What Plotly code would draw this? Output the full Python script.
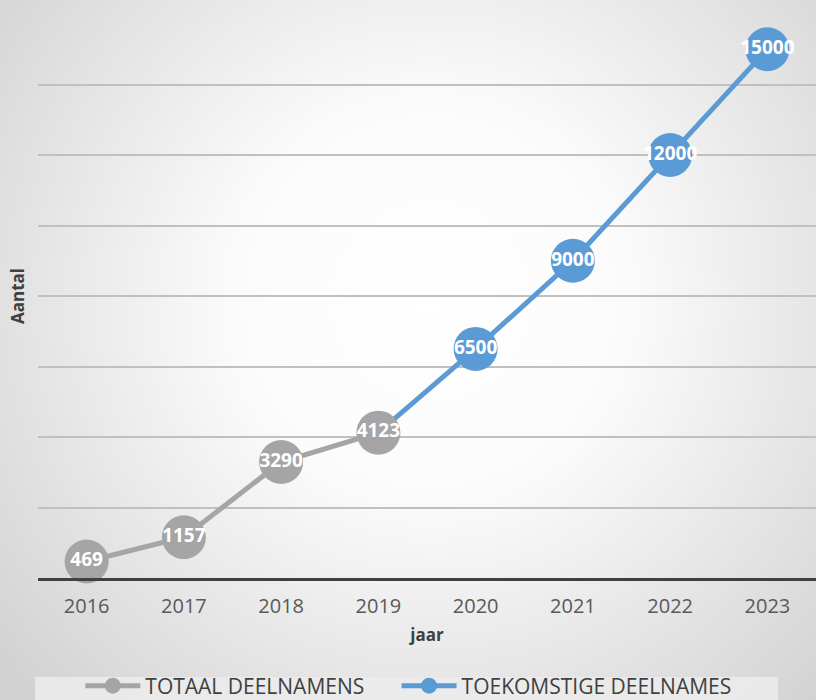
import base64
import plotly.graph_objects as go

years = ["2016", "2017", "2018", "2019", "2020", "2021", "2022", "2023"]
totaal_years = ["2016", "2017", "2018", "2019"]
totaal_vals = [469, 1157, 3290, 4123]
toekomst_years = ["2019", "2020", "2021", "2022", "2023"]
toekomst_vals = [4123, 6500, 9000, 12000, 15000]

W, H = 816, 700
L, R, T, B = 38, 0, 14, 122
pw, ph = W - L - R, H - T - B

svg = f'''<svg xmlns="http://www.w3.org/2000/svg" width="{W}" height="{H}">
<defs><radialGradient id="g" cx="{430}" cy="{300}" r="{560}" gradientUnits="userSpaceOnUse">
<stop offset="0" stop-color="#ffffff"/><stop offset="0.35" stop-color="#fbfbfb"/><stop offset="1" stop-color="#d2d2d2"/>
</radialGradient></defs><rect width="{W}" height="{H}" fill="url(#g)"/></svg>'''
src = "data:image/svg+xml;base64," + base64.b64encode(svg.encode()).decode()

grey = "#a5a5a5"
blue = "#5b9bd5"
lbl_font = dict(family="Open Sans", size=19, color="white", weight="bold")

fig = go.Figure()
fig.add_trace(go.Scatter(
    x=toekomst_years, y=toekomst_vals, mode="lines+markers+text",
    name="TOEKOMSTIGE DEELNAMES",
    line=dict(color=blue, width=5),
    marker=dict(color=blue, size=[0] + [44] * (len(toekomst_vals) - 1), opacity=1, line=dict(width=0)),
    text=[""] + [str(v) for v in toekomst_vals[1:]],
    textposition="middle center", textfont=lbl_font,
    legendrank=2, cliponaxis=False,
))
fig.add_trace(go.Scatter(
    x=totaal_years, y=totaal_vals, mode="lines+markers+text",
    name="TOTAAL DEELNAMENS" + "\u00a0" * 5,
    line=dict(color=grey, width=5),
    marker=dict(color=grey, size=44, opacity=1, line=dict(width=0)),
    text=[str(v) for v in totaal_vals],
    textposition="middle center", textfont=lbl_font,
    legendrank=1, cliponaxis=False,
))

fig.update_layout(
    width=W, height=H,
    margin=dict(l=L, r=R, t=T, b=B, autoexpand=False),
    paper_bgcolor="#e6e6e6", plot_bgcolor="rgba(0,0,0,0)",
    images=[dict(source=src, xref="paper", yref="paper",
                 x=-L / pw, y=1 + T / ph, sizex=W / pw, sizey=H / ph,
                 xanchor="left", yanchor="top", sizing="stretch", layer="below")],
    shapes=[dict(type="rect", xref="paper", yref="paper",
                 x0=(35 - L) / pw, x1=(778 - L) / pw,
                 y0=(578 - 677) / ph, y1=(578 - 710) / ph,
                 fillcolor="rgba(235,235,235,0.9)", line=dict(width=0), layer="below")],
    xaxis=dict(
        type="category", categoryorder="array", categoryarray=years,
        range=[-0.5, 7.5], showgrid=False, showline=True, linecolor="#404040", linewidth=3,
        tickfont=dict(family="Open Sans", size=20, color="#595959"),
        ticks="", ticklabelstandoff=8,
        title=dict(text="jaar", font=dict(family="Open Sans", size=17, color="#404040", weight="bold"), standoff=12),
        automargin=False, zeroline=False,
    ),
    yaxis=dict(
        range=[0, 16000], dtick=2000, showgrid=True, gridcolor="#c0c0c0", gridwidth=1.5,
        showticklabels=False, showline=False, zeroline=False, ticks="",
        title=dict(text="Aantal", font=dict(family="Open Sans", size=17, color="#404040", weight="bold"), standoff=8),
        automargin=False,
    ),
    showlegend=True,
    legend=dict(orientation="h", xref="paper", yref="paper", x=0.476, xanchor="center",
                y=(578 - 686) / ph, yanchor="middle", bgcolor="rgba(0,0,0,0)", itemwidth=55,
                font=dict(family="Open Sans", size=21, color="#404040"),
                traceorder="normal"),
)

fig.write_html("out.html", config={"displayModeBar": False},
               post_script="document.body.style.margin='0';document.body.style.overflow='hidden';")
